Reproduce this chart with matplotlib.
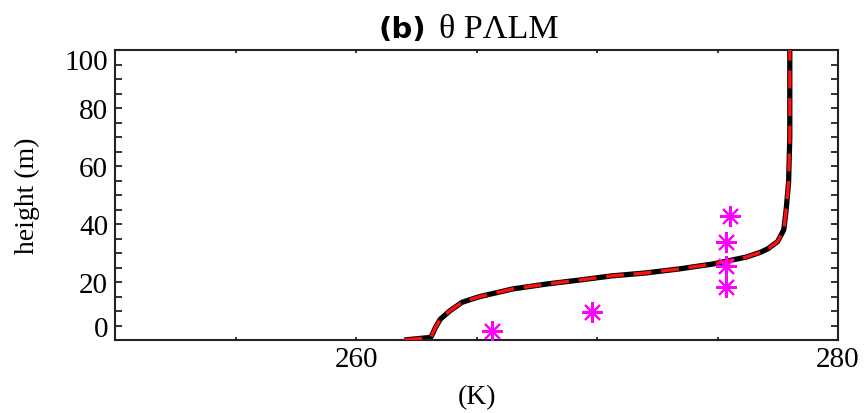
import matplotlib
matplotlib.use("Agg")
import matplotlib.pyplot as plt
from matplotlib.ticker import MultipleLocator
from matplotlib.transforms import ScaledTranslation

# Potential temperature profiles (K) against height (m)
height = [0.0, 0.9, 2.5, 4.4, 7.2, 10.1, 13.0, 14.9, 17.6, 19.3, 20.7, 22.1, 23.1,
          24.5, 26.2, 28.6, 30.3, 31.5, 34.0, 38.0, 45.0, 54.5, 70.0, 100.0]
theta_ref = [262.0, 263.1, 263.2, 263.3, 263.5, 263.9, 264.4, 265.1, 266.5, 267.9,
             269.3, 270.6, 272.0, 273.4, 274.8, 276.2, 276.8, 277.1, 277.5,
             277.75, 277.85, 277.95, 278.0, 278.0]
theta_palm = [262.0, 263.1, 263.2, 263.3, 263.5, 263.9, 264.4, 265.1, 266.5, 267.9,
              269.3, 270.6, 272.0, 273.4, 274.8, 276.2, 276.8, 277.1, 277.5,
              277.75, 277.85, 277.95, 278.0, 278.0]

# Observations
obs_theta = [265.65, 269.8, 275.35, 275.35, 275.35, 275.5]
obs_height = [3.2, 9.5, 18.2, 25.6, 33.7, 42.6]

x_ticks = [260, 280]
x_ticklabels = ["260", "280"]
y_ticks = [0, 20, 40, 60, 80, 100]
y_ticklabels = ["0", "20", "40", "60", "80", "100"]

serif = "Liberation Serif"

fig = plt.figure(figsize=(8.68, 4.14), dpi=100)
ax = fig.add_axes([115 / 868, 1 - 341 / 414, 723 / 868, 290 / 414])

ax.plot(theta_ref, height, color="black", lw=3.8, solid_capstyle="butt",
        solid_joinstyle="round", zorder=2)
ax.plot(theta_palm, height, color="#ff1010", lw=2.4, dashes=(5.4, 2.9),
        dash_capstyle="butt", dash_joinstyle="round", zorder=3)
ax.plot(obs_theta, obs_height, ls="none", marker=(8, 2, 0), markersize=15,
        markeredgewidth=1.5, color="#ff00ff", zorder=4)

ax.set_xlim(250, 280)
ax.set_ylim(0, 100)

ax.set_xticks(x_ticks)
ax.set_xticklabels(x_ticklabels)
ax.xaxis.set_minor_locator(MultipleLocator(5))
ax.set_yticks(y_ticks)
ax.set_yticklabels(y_ticklabels)
ax.yaxis.set_minor_locator(MultipleLocator(5))

for lab in ax.get_xticklabels() + ax.get_yticklabels():
    lab.set_fontfamily(serif)
    lab.set_fontsize(21)

ax.tick_params(axis="x", which="both", direction="in", top=True, bottom=True,
               length=2, width=1.4, pad=4.5, color="#333333")
ax.tick_params(axis="y", which="both", direction="in", left=True, right=True,
               length=5, width=1.3, pad=5, color="#222222")

for s in ax.spines.values():
    s.set_linewidth(1.5)
    s.set_color("#222222")

# bottom and top y labels sit slightly inside the frame
yt = ax.yaxis.get_major_ticks()
yt[0].label1.set_transform(yt[0].label1.get_transform()
                           + ScaledTranslation(0, 14 / 100, fig.dpi_scale_trans))
yt[-1].label1.set_transform(yt[-1].label1.get_transform()
                            + ScaledTranslation(0, -9 / 100, fig.dpi_scale_trans))

fig.text(27 / 868, 1 - 196 / 414, "height (m)", rotation=90, ha="center",
         va="center", family=serif, fontsize=20)
fig.text(477 / 868, 1 - 398 / 414, "(K)", ha="center", va="center",
         family=serif, fontsize=20)

fig.text(426 / 868, 1 - 38 / 414, "(b)", ha="right", va="baseline",
         family="DejaVu Sans", weight="bold", fontsize=21)
fig.text(439 / 868, 1 - 38 / 414, "θ PΛLM", ha="left", va="baseline",
         family=serif, fontsize=24.5)

fig.savefig("out.png", dpi=100)
